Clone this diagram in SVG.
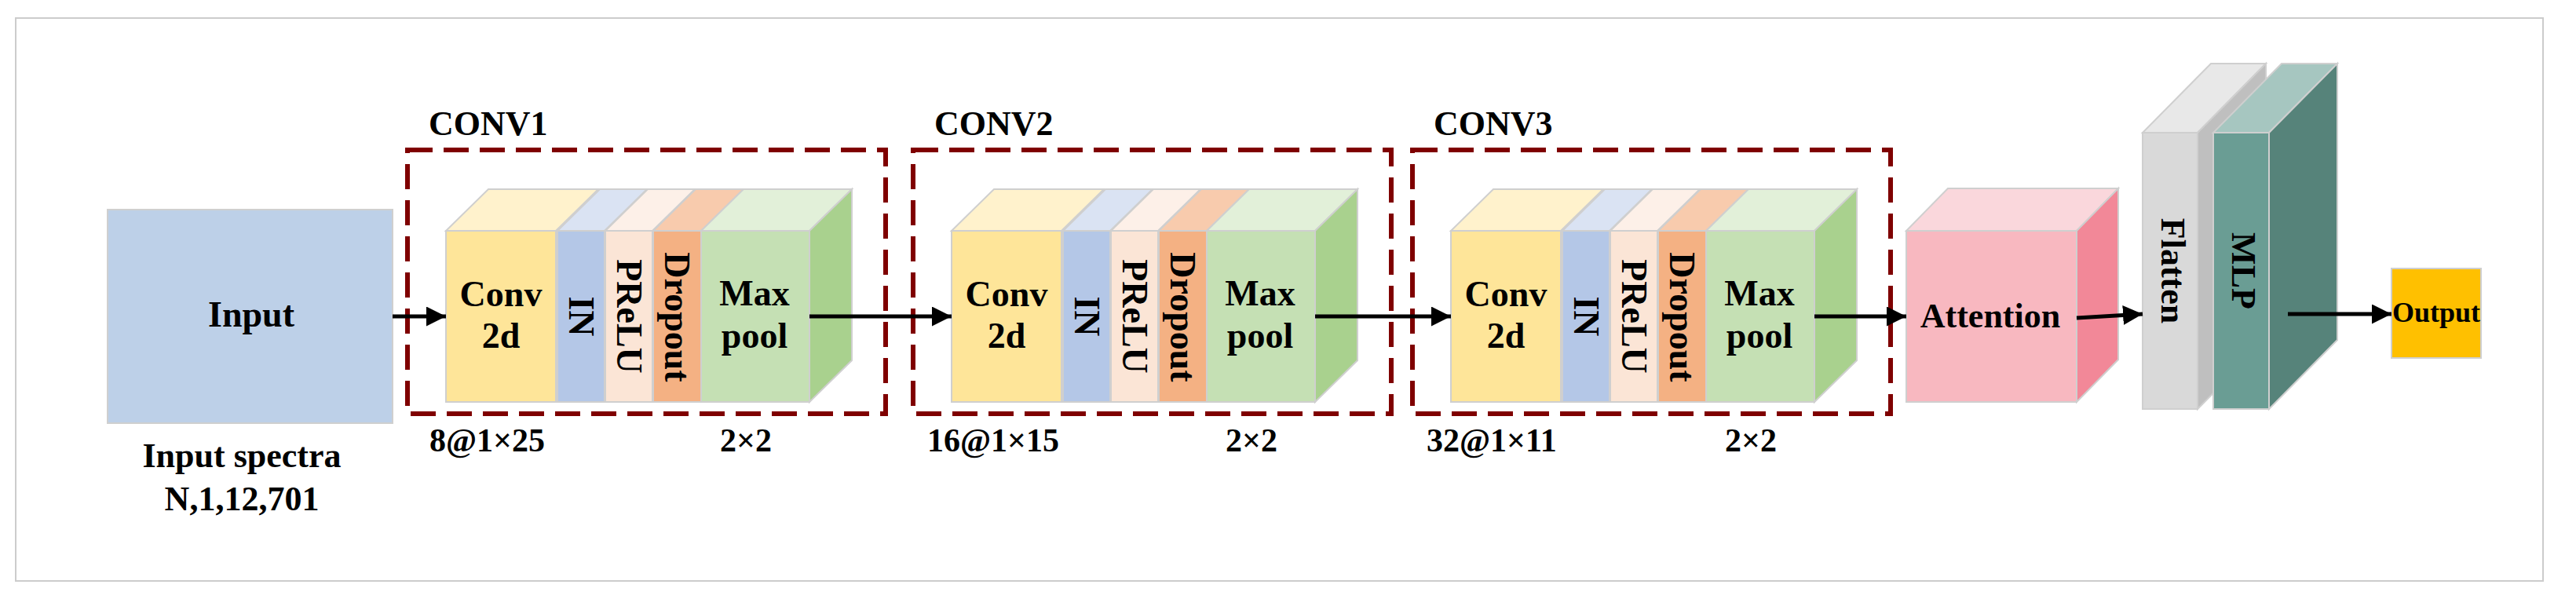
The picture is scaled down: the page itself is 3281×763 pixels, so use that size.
<svg xmlns="http://www.w3.org/2000/svg" width="3281" height="763" viewBox="0 0 3281 763">
<style>
text{font-family:"Liberation Serif","Times New Roman",serif;font-weight:bold;fill:#000}
.f{stroke:#cfcfcf;stroke-width:2}
.dash{fill:none;stroke:#7f0000;stroke-width:6;stroke-dasharray:32 14}
.t46{font-size:46px}
.t44{font-size:44px}
.lbl{font-size:42px}
.c{text-anchor:middle}
.conn{stroke:#000;stroke-width:5;fill:none}
</style>
<defs>
<marker id="ah" viewBox="0 0 10 10" refX="10" refY="5" markerWidth="5" markerHeight="5" markerUnits="strokeWidth" orient="auto"><path d="M0,0 L10,5 L0,10 z" fill="#000"/></marker>
</defs>
<rect x="20" y="23" width="3219" height="717" fill="#fff" stroke="#cccccc" stroke-width="2"/>

<g id="input">
<rect x="137" y="267" width="363" height="272" fill="#bdd0e8" class="f"/>
<text x="320" y="416" class="t46 c">Input</text>
<text x="308" y="595" class="t44 c">Input spectra</text>
<text x="308" y="650" class="t44 c">N,1,12,701</text>
</g>

<g id="conv1">
<rect x="519" y="191" width="609" height="336" class="dash"/>
<text x="546" y="172" class="t44">CONV1</text>
<polygon points="568,294 708,294 762,241 622,241" fill="#fff2cc" class="f"/>
<polygon points="710,294 770,294 824,241 764,241" fill="#dae3f3" class="f"/>
<polygon points="771,294 831,294 885,241 825,241" fill="#fdf0e8" class="f"/>
<polygon points="832,294 893,294 947,241 886,241" fill="#f8cbad" class="f"/>
<polygon points="893,294 1031,294 1085,241 947,241" fill="#e2f0d9" class="f"/>
<polygon points="1031,294 1085,241 1085,459 1031,512" fill="#a9d18e" class="f"/>
<rect x="568" y="294" width="140" height="218" fill="#fee599" class="f"/>
<rect x="710" y="294" width="60" height="218" fill="#b4c7e7" class="f"/>
<rect x="771" y="294" width="60" height="218" fill="#fbe5d6" class="f"/>
<rect x="832" y="294" width="61" height="218" fill="#f4b183" class="f"/>
<rect x="893" y="294" width="138" height="218" fill="#c5e0b4" class="f"/>
<text x="638" y="390" class="t46 c">Conv</text>
<text x="638" y="443" class="t46 c">2d</text>
<text x="740" y="403" class="t46 c" dominant-baseline="central" transform="rotate(90 740 403)">IN</text>
<text x="801" y="403" class="t46 c" dominant-baseline="central" transform="rotate(90 801 403)">PReLU</text>
<text x="862" y="404" class="t46 c" dominant-baseline="central" transform="rotate(90 862 404)">Dropout</text>
<text x="961" y="389" class="t46 c">Max</text>
<text x="961" y="443" class="t46 c">pool</text>
<text x="547" y="575" class="lbl">8@1×25</text>
<text x="950" y="575" class="lbl c">2×2</text>
</g>

<g id="conv2" transform="translate(644 0)">
<rect x="519" y="191" width="609" height="336" class="dash"/>
<text x="546" y="172" class="t44">CONV2</text>
<polygon points="568,294 708,294 762,241 622,241" fill="#fff2cc" class="f"/>
<polygon points="710,294 770,294 824,241 764,241" fill="#dae3f3" class="f"/>
<polygon points="771,294 831,294 885,241 825,241" fill="#fdf0e8" class="f"/>
<polygon points="832,294 893,294 947,241 886,241" fill="#f8cbad" class="f"/>
<polygon points="893,294 1031,294 1085,241 947,241" fill="#e2f0d9" class="f"/>
<polygon points="1031,294 1085,241 1085,459 1031,512" fill="#a9d18e" class="f"/>
<rect x="568" y="294" width="140" height="218" fill="#fee599" class="f"/>
<rect x="710" y="294" width="60" height="218" fill="#b4c7e7" class="f"/>
<rect x="771" y="294" width="60" height="218" fill="#fbe5d6" class="f"/>
<rect x="832" y="294" width="61" height="218" fill="#f4b183" class="f"/>
<rect x="893" y="294" width="138" height="218" fill="#c5e0b4" class="f"/>
<text x="638" y="390" class="t46 c">Conv</text>
<text x="638" y="443" class="t46 c">2d</text>
<text x="740" y="403" class="t46 c" dominant-baseline="central" transform="rotate(90 740 403)">IN</text>
<text x="801" y="403" class="t46 c" dominant-baseline="central" transform="rotate(90 801 403)">PReLU</text>
<text x="862" y="404" class="t46 c" dominant-baseline="central" transform="rotate(90 862 404)">Dropout</text>
<text x="961" y="389" class="t46 c">Max</text>
<text x="961" y="443" class="t46 c">pool</text>
<text x="537" y="575" class="lbl">16@1×15</text>
<text x="950" y="575" class="lbl c">2×2</text>
</g>

<g id="conv3" transform="translate(1280 0)">
<rect x="519" y="191" width="609" height="336" class="dash"/>
<text x="546" y="172" class="t44">CONV3</text>
<polygon points="568,294 708,294 762,241 622,241" fill="#fff2cc" class="f"/>
<polygon points="710,294 770,294 824,241 764,241" fill="#dae3f3" class="f"/>
<polygon points="771,294 831,294 885,241 825,241" fill="#fdf0e8" class="f"/>
<polygon points="832,294 893,294 947,241 886,241" fill="#f8cbad" class="f"/>
<polygon points="893,294 1031,294 1085,241 947,241" fill="#e2f0d9" class="f"/>
<polygon points="1031,294 1085,241 1085,459 1031,512" fill="#a9d18e" class="f"/>
<rect x="568" y="294" width="140" height="218" fill="#fee599" class="f"/>
<rect x="710" y="294" width="60" height="218" fill="#b4c7e7" class="f"/>
<rect x="771" y="294" width="60" height="218" fill="#fbe5d6" class="f"/>
<rect x="832" y="294" width="61" height="218" fill="#f4b183" class="f"/>
<rect x="893" y="294" width="138" height="218" fill="#c5e0b4" class="f"/>
<text x="638" y="390" class="t46 c">Conv</text>
<text x="638" y="443" class="t46 c">2d</text>
<text x="740" y="403" class="t46 c" dominant-baseline="central" transform="rotate(90 740 403)">IN</text>
<text x="801" y="403" class="t46 c" dominant-baseline="central" transform="rotate(90 801 403)">PReLU</text>
<text x="862" y="404" class="t46 c" dominant-baseline="central" transform="rotate(90 862 404)">Dropout</text>
<text x="961" y="389" class="t46 c">Max</text>
<text x="961" y="443" class="t46 c">pool</text>
<text x="537" y="575" class="lbl">32@1×11</text>
<text x="950" y="575" class="lbl c">2×2</text>
</g>

<g id="attention">
<polygon points="2428,294 2645,294 2698,240 2481,240" fill="#fad7dc" class="f"/>
<polygon points="2645,294 2698,240 2698,458 2645,512" fill="#f28898" class="f"/>
<rect x="2428" y="294" width="217" height="218" fill="#f8b8c0" class="f"/>
<text x="2535" y="417" class="t44 c">Attention</text>
</g>

<g id="flatten">
<polygon points="2729,169 2799,169 2886,81 2816,81" fill="#e8e8e8" class="f"/>
<polygon points="2799,169 2886,81 2886,433 2799,521" fill="#bfbfbf" class="f"/>
<rect x="2729" y="169" width="70" height="352" fill="#d9d9d9" class="f"/>
<text x="2767" y="345" class="t44 c" dominant-baseline="central" transform="rotate(90 2767 345)">Flatten</text>
</g>

<g id="mlp">
<polygon points="2819,169 2890,169 2977,81 2906,81" fill="#a6c6c0" class="f"/>
<polygon points="2890,169 2977,81 2977,433 2890,521" fill="#56837a" class="f"/>
<rect x="2819" y="169" width="71" height="352" fill="#6a9d94" class="f"/>
<text x="2857" y="345" class="t44 c" dominant-baseline="central" transform="rotate(90 2857 345)">MLP</text>
</g>

<g id="output">
<rect x="3046" y="342" width="114" height="114" fill="#ffc000" class="f"/>
<text x="3103" y="410" class="c" style="font-size:36px">Output</text>
</g>

<g id="connectors">
<line x1="500" y1="403" x2="568" y2="403" class="conn" marker-end="url(#ah)"/>
<line x1="1031" y1="403" x2="1212" y2="403" class="conn" marker-end="url(#ah)"/>
<line x1="1675" y1="403" x2="1848" y2="403" class="conn" marker-end="url(#ah)"/>
<line x1="2311" y1="403" x2="2428" y2="403" class="conn" marker-end="url(#ah)"/>
<line x1="2645" y1="405" x2="2729" y2="400" class="conn" marker-end="url(#ah)"/>
<line x1="2914" y1="400" x2="3046" y2="400" class="conn" marker-end="url(#ah)"/>
</g>
</svg>
